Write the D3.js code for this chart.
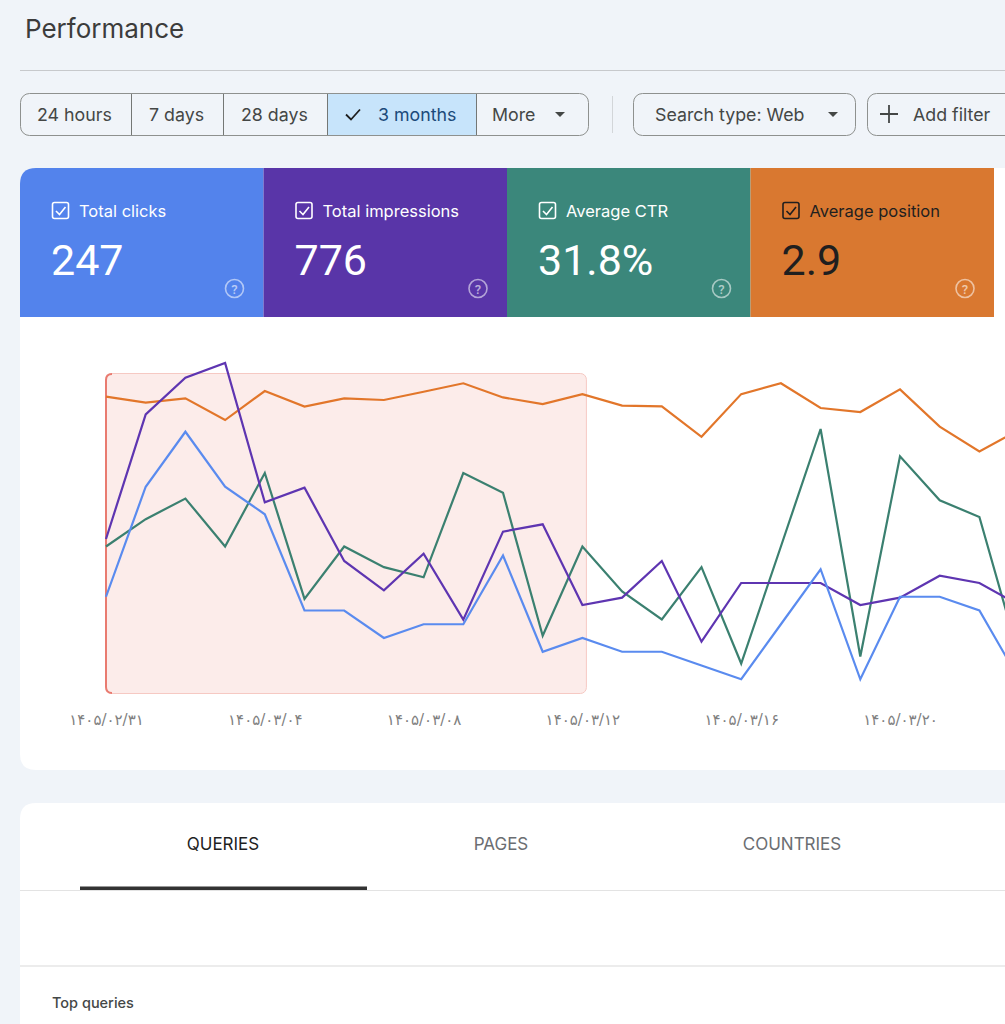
<!DOCTYPE html>
<html>
<head>
<meta charset="utf-8">
<script src="https://cdn.jsdelivr.net/npm/d3@7"></script>
<style>
  body { margin: 0; background: #f0f4f9; }
  svg { display: block; font-family: Roboto, "Noto Sans", sans-serif; }
  .ui { font-family: Inter, Roboto, sans-serif; }
</style>
</head>
<body>
<div id="chart"></div>
<script>
// data
var dates = ["۱۴۰۵/۰۲/۳۱", "۱۴۰۵/۰۳/۰۱", "۱۴۰۵/۰۳/۰۲", "۱۴۰۵/۰۳/۰۳", "۱۴۰۵/۰۳/۰۴", "۱۴۰۵/۰۳/۰۵",
  "۱۴۰۵/۰۳/۰۶", "۱۴۰۵/۰۳/۰۷", "۱۴۰۵/۰۳/۰۸", "۱۴۰۵/۰۳/۰۹", "۱۴۰۵/۰۳/۱۰", "۱۴۰۵/۰۳/۱۱",
  "۱۴۰۵/۰۳/۱۲", "۱۴۰۵/۰۳/۱۳", "۱۴۰۵/۰۳/۱۴", "۱۴۰۵/۰۳/۱۵", "۱۴۰۵/۰۳/۱۶", "۱۴۰۵/۰۳/۱۷",
  "۱۴۰۵/۰۳/۱۸", "۱۴۰۵/۰۳/۱۹", "۱۴۰۵/۰۳/۲۰", "۱۴۰۵/۰۳/۲۱", "۱۴۰۵/۰۳/۲۲", "۱۴۰۵/۰۳/۲۳"];
var clicks = [7, 15, 19, 15, 13, 6, 6, 4, 5, 5, 10, 3, 4, 3, 3, 2, 1, 5, 9, 1, 7, 7, 6, 1];
var impressions = [21, 38, 43, 45, 26, 28, 18, 14, 19, 10, 22, 23, 12, 13, 18, 7, 15, 15, 15, 12, 13, 16, 15, 12];
var ctr = [33.3, 39.5, 44.2, 33.3, 50, 21.4, 33.3, 28.6, 26.3, 50, 45.5, 13, 33.3, 23.1, 16.7, 28.6, 6.7, 33.3, 60, 8.3, 53.8, 43.8, 40, 8.3];
var position = [2.43, 2.68, 2.5, 3.42, 2.19, 2.85, 2.5, 2.57, 2.22, 1.86, 2.46, 2.74, 2.32, 2.81, 2.84, 4.13, 2.32, 1.86, 2.91, 3.08, 2.12, 3.7, 4.75, 3.84];
var tickDates = ["۱۴۰۵/۰۲/۳۱", "۱۴۰۵/۰۳/۰۴", "۱۴۰۵/۰۳/۰۸", "۱۴۰۵/۰۳/۱۲", "۱۴۰۵/۰۳/۱۶", "۱۴۰۵/۰۳/۲۰"];
var highlightRange = ["۱۴۰۵/۰۲/۳۱", "۱۴۰۵/۰۳/۱۲"];

var rangeButtons = ["24 hours", "7 days", "28 days", "3 months", "More"];
var rangeEdges = [20, 131, 223, 327, 476, 589];
var rangeTextX = [37, 149, 241, 378, 492];
var selectedRange = "3 months";

var metricNames = ["Total clicks", "Total impressions", "Average CTR", "Average position"];
var metricTotals = ["247", "776", "31.8%", "2.9"];
var metricColors = ["#5383ec", "#5935a8", "#3b877b", "#d97830"];
var metricText = ["#ffffff", "#ffffff", "#ffffff", "#1f1f1f"];
var lineColors = ["#5a8bef", "#5e35b1", "#3b8070", "#e2762a"];

var tabs = ["QUERIES", "PAGES", "COUNTRIES"];
var tabCenters = [223, 501, 792];

var W = 1005, H = 1024;

var svg = d3.select("#chart").append("svg")
    .attr("width", W)
    .attr("height", H);

// header
svg.append("text")
    .attr("class", "ui")
    .attr("x", 25).attr("y", 38)
    .attr("font-size", 26).attr("fill", "#3c3c3c")
    .text("Performance");
svg.append("line")
    .attr("x1", 20).attr("x2", W).attr("y1", 70.5).attr("y2", 70.5)
    .attr("stroke", "#c7c9cc");

// date range segmented button
var seg = svg.append("g").attr("class", "ui");
rangeButtons.forEach(function (b, i) {
    var x0 = rangeEdges[i], x1 = rangeEdges[i + 1];
    if (b == selectedRange) {
        seg.append("rect")
            .attr("x", x0).attr("y", 93.5).attr("width", x1 - x0).attr("height", 42)
            .attr("fill", "#c7e4fb");
    }
    if (i > 0) {
        seg.append("line")
            .attr("x1", x0 + 0.5).attr("x2", x0 + 0.5).attr("y1", 93.5).attr("y2", 135.5)
            .attr("stroke", "#747775");
    }
    seg.append("text")
        .attr("x", rangeTextX[i]).attr("y", 121)
        .attr("font-size", 17.8)
        .attr("fill", b == selectedRange ? "#1b4a7a" : "#444746")
        .text(b);
});
seg.append("rect")
    .attr("x", 20.5).attr("y", 93.5).attr("width", 568).attr("height", 42).attr("rx", 9)
    .attr("fill", "none").attr("stroke", "#8e918f");
seg.append("path").attr("d", "M346,114.5 L351,119.5 L360,109.5")
    .attr("fill", "none").attr("stroke", "#1f1f1f").attr("stroke-width", 1.8);
seg.append("path").attr("d", "M555,112 L565,112 L560,117 Z").attr("fill", "#444746");

svg.append("line")
    .attr("x1", 612.5).attr("x2", 612.5).attr("y1", 96).attr("y2", 133)
    .attr("stroke", "#d3d6d9");

svg.append("rect")
    .attr("x", 633.5).attr("y", 93.5).attr("width", 222).attr("height", 42).attr("rx", 9)
    .attr("fill", "none").attr("stroke", "#8e918f");
svg.append("text").attr("class", "ui").attr("x", 655).attr("y", 121)
    .attr("font-size", 17.8).attr("fill", "#444746").text("Search type: Web");
svg.append("path").attr("d", "M828,112 L838,112 L833,117 Z").attr("fill", "#444746");

svg.append("rect")
    .attr("x", 867.5).attr("y", 93.5).attr("width", 170).attr("height", 42).attr("rx", 9)
    .attr("fill", "none").attr("stroke", "#8e918f");
svg.append("path").attr("d", "M889,105 L889,123 M880,114 L898,114")
    .attr("stroke", "#444746").attr("stroke-width", 1.8);
svg.append("text").attr("class", "ui").attr("x", 913).attr("y", 121)
    .attr("font-size", 17.8).attr("fill", "#444746").text("Add filter");

// white chart card (rounded on the left)
svg.append("path")
    .attr("d", "M36,168 L1040,168 L1040,770 L36,770 Q20,770 20,754 L20,184 Q20,168 36,168 Z")
    .attr("fill", "#ffffff");

// metric cards
var cardX = d3.scaleLinear().domain([0, 4]).range([20, 994]);
metricNames.forEach(function (name, i) {
    var L = cardX(i), R = cardX(i + 1);
    var g = svg.append("g");
    if (i == 0) {
        g.append("path")
            .attr("d", "M" + (L + 16) + ",168 L" + R + ",168 L" + R + ",317 L" + L + ",317 L" + L + ",184 Q" + L + ",168 " + (L + 16) + ",168 Z")
            .attr("fill", metricColors[i]);
    } else {
        g.append("rect")
            .attr("x", L).attr("y", 168).attr("width", R - L).attr("height", 149)
            .attr("fill", metricColors[i]);
    }
    var c = metricText[i];
    g.append("rect")
        .attr("x", L + 32.5).attr("y", 202.5).attr("width", 16).attr("height", 16).attr("rx", 2)
        .attr("fill", "none").attr("stroke", c).attr("stroke-width", 1.6);
    g.append("path")
        .attr("d", "M" + (L + 36) + ",211 L" + (L + 39.5) + ",214.5 L" + (L + 45.5) + ",207")
        .attr("fill", "none").attr("stroke", c).attr("stroke-width", 1.6);
    g.append("text")
        .attr("class", "ui")
        .attr("x", L + 59).attr("y", 217)
        .attr("font-size", 16.5).attr("fill", c)
        .text(name);
    g.append("text")
        .attr("x", L + 31).attr("y", 275)
        .attr("font-size", 43).attr("fill", c)
        .text(metricTotals[i]);
    g.append("circle")
        .attr("cx", L + 214.5).attr("cy", 288.5).attr("r", 9)
        .attr("fill", "none").attr("stroke", "rgba(255,255,255,0.55)").attr("stroke-width", 1.6);
    g.append("text")
        .attr("x", L + 214.5).attr("y", 293.5).attr("text-anchor", "middle")
        .attr("font-size", 13).attr("font-weight", 500).attr("fill", "rgba(255,255,255,0.6)")
        .text("?");
});

// line chart
var x = d3.scalePoint().domain(dates).range([106, 106 + 23 * 39.7]);
var yClicks = d3.scaleLinear().domain([0, 24]).range([693, 363]);
var yImpr = d3.scaleLinear().domain([0, 45]).range([693, 363]);
var yCtr = d3.scaleLinear().domain([0, 75]).range([693, 363]);
var yPos = d3.scaleLinear().domain([1, 15]).range([363, 693]);

// highlighted range
var hx0 = x(highlightRange[0]), hx1 = x(highlightRange[1]) + 4;
svg.append("rect")
    .attr("x", hx0).attr("y", 373.5).attr("width", hx1 - hx0).attr("height", 320).attr("rx", 6)
    .attr("fill", "#fcecea").attr("stroke", "#f6c9c3").attr("stroke-width", 1);
svg.append("path")
    .attr("d", "M" + (hx0 + 6) + ",374 Q" + hx0 + ",374 " + hx0 + ",380 L" + hx0 + ",687 Q" + hx0 + ",693 " + (hx0 + 6) + ",693")
    .attr("fill", "none").attr("stroke", "#e97b70").attr("stroke-width", 2);

var series = [
    { values: position, y: yPos, color: lineColors[3] },
    { values: ctr, y: yCtr, color: lineColors[2] },
    { values: impressions, y: yImpr, color: lineColors[1] },
    { values: clicks, y: yClicks, color: lineColors[0] }
];

series.forEach(function (s) {
    var line = d3.line()
        .x(function (d, i) { return x(dates[i]); })
        .y(function (d) { return s.y(d); });
    svg.append("path")
        .datum(s.values)
        .attr("d", line)
        .attr("fill", "none")
        .attr("stroke", s.color)
        .attr("stroke-width", 2.2)
        .attr("stroke-linejoin", "miter");
});

var xAxis = svg.append("g")
    .attr("transform", "translate(0,708)")
    .call(d3.axisBottom(x).tickValues(tickDates).tickSize(0).tickPadding(6));
xAxis.select(".domain").remove();
xAxis.selectAll("text")
    .attr("font-family", "'DejaVu Sans', sans-serif")
    .attr("font-size", 15)
    .attr("fill", "#808080");

// lower card with tabs
svg.append("path")
    .attr("d", "M36,803 L1040,803 L1040,1040 L20,1040 L20,819 Q20,803 36,803 Z")
    .attr("fill", "#ffffff");
tabs.forEach(function (t, i) {
    svg.append("text")
        .attr("class", "ui")
        .attr("x", tabCenters[i]).attr("y", 850)
        .attr("text-anchor", "middle")
        .attr("font-size", 17)
        .attr("fill", i == 0 ? "#1f1f1f" : "#6b6e72")
        .text(t);
});
svg.append("line")
    .attr("x1", 20).attr("x2", W).attr("y1", 890.5).attr("y2", 890.5)
    .attr("stroke", "#e3e3e3");
svg.append("rect")
    .attr("x", 80).attr("y", 886.5).attr("width", 287).attr("height", 3.5)
    .attr("fill", "#333333");
svg.append("line")
    .attr("x1", 20).attr("x2", W).attr("y1", 966).attr("y2", 966)
    .attr("stroke", "#ececec").attr("stroke-width", 2);
svg.append("text")
    .attr("class", "ui")
    .attr("x", 52).attr("y", 1008)
    .attr("font-size", 14.5).attr("font-weight", 500).attr("fill", "#444746")
    .text("Top queries");
</script>
</body>
</html>
